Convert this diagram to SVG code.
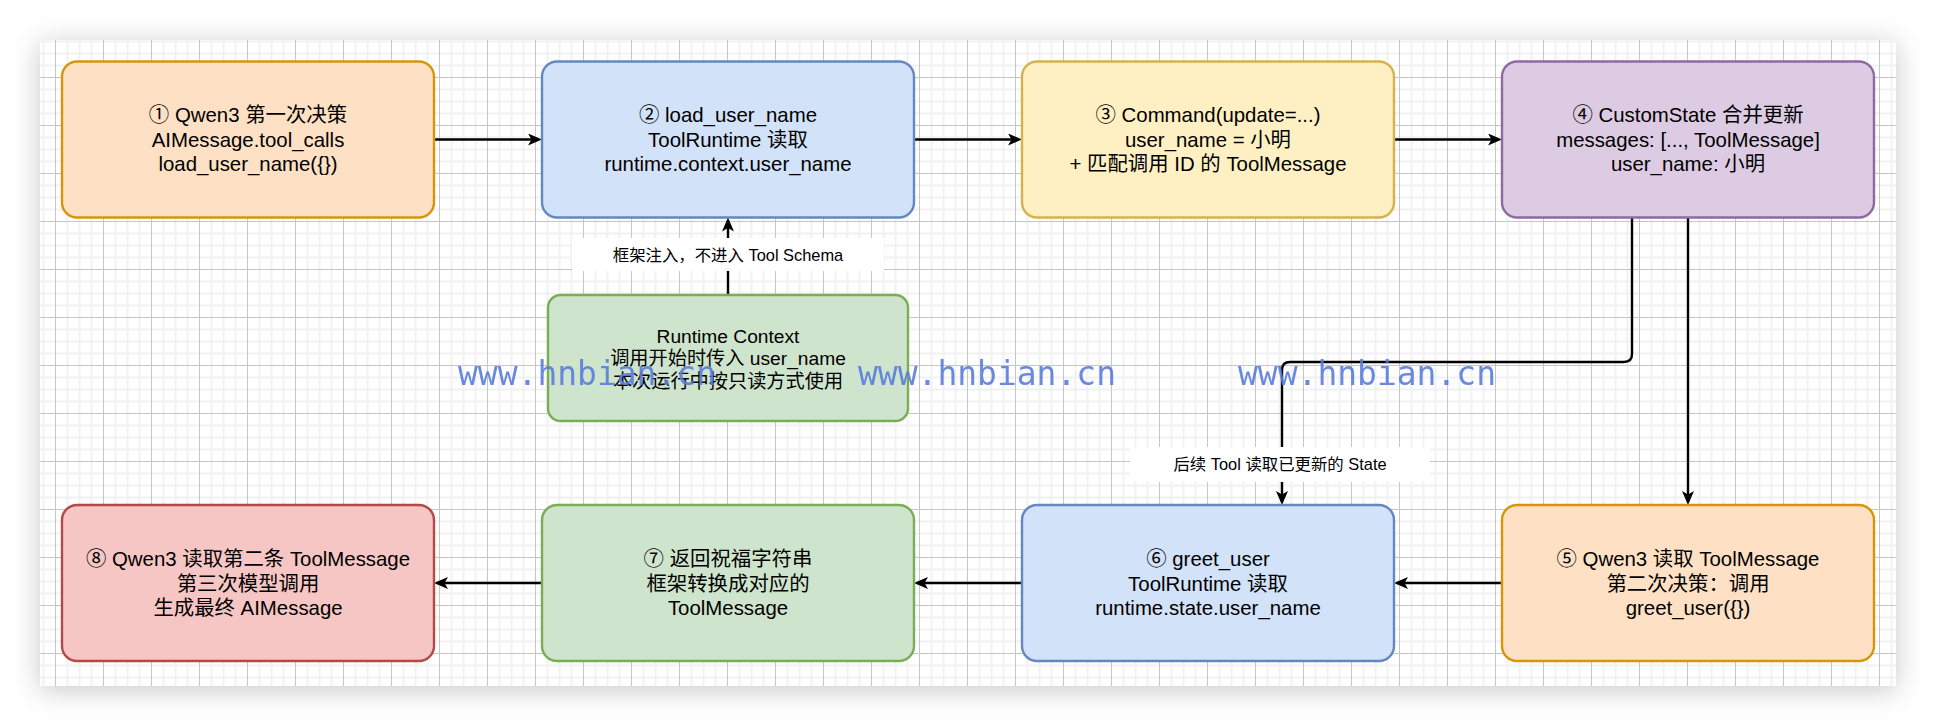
<svg xmlns="http://www.w3.org/2000/svg" width="1936" height="726" viewBox="0 0 1936 726">
  <style>
    .node rect { stroke-width: 2.4; }
    .t { font-family: 'Liberation Sans', 'Noto Sans CJK SC', sans-serif; font-size: 20.4px; fill: #000; text-anchor: middle; }
    .tc { font-family: 'Liberation Sans', 'Noto Sans CJK SC', sans-serif; font-size: 19.2px; fill: #000; text-anchor: middle; }
    .lbl { font-family: 'Liberation Sans', 'Noto Sans CJK SC', sans-serif; font-size: 16.4px; fill: #000; text-anchor: middle; }
    .edge { fill: none; stroke: #000; stroke-width: 2.4; marker-end: url(#arr); }
    .wm { font-family: 'DejaVu Sans Mono', monospace; font-size: 33px; fill: #5a7ddc; opacity: 0.9; }
    .orange { fill: #fee0c4; stroke: #d6960a; }
    .blue { fill: #d2e2f9; stroke: #6488c0; }
    .yellow { fill: #fff0c4; stroke: #d6b24c; }
    .purple { fill: #dccbe2; stroke: #8f6aa2; }
    .green { fill: #cfe4cc; stroke: #79ad56; }
    .red { fill: #f5c6c3; stroke: #b44a45; }
  </style>
  <defs>
    <filter id="shadow" x="-10%" y="-20%" width="120%" height="140%">
      <feDropShadow dx="0" dy="4" stdDeviation="14" flood-color="#000" flood-opacity="0.22"/>
    </filter>
    <pattern id="grid" patternUnits="userSpaceOnUse" x="7" y="29" width="48" height="48">
      <rect x="0" y="0" width="48" height="48" fill="#fff"/>
      <rect x="11.5" y="0" width="2" height="48" fill="#f1f1f1"/>
      <rect x="23.5" y="0" width="2" height="48" fill="#f1f1f1"/>
      <rect x="35.5" y="0" width="2" height="48" fill="#f1f1f1"/>
      <rect x="0" y="11.5" width="48" height="2" fill="#f1f1f1"/>
      <rect x="0" y="23.5" width="48" height="2" fill="#f1f1f1"/>
      <rect x="0" y="35.5" width="48" height="2" fill="#f1f1f1"/>
      <rect x="0" y="0" width="1" height="48" fill="#c6c6c6"/>
      <rect x="0" y="0" width="48" height="1" fill="#c6c6c6"/>
    </pattern>
    <marker id="arr" viewBox="0 0 14 12" markerWidth="14" markerHeight="12" refX="11" refY="6" orient="auto" markerUnits="userSpaceOnUse">
      <path d="M0,0 L14,6 L0,12 L3.5,6 Z" fill="#000"/>
    </marker>
  </defs>

  <rect x="0" y="0" width="1936" height="726" fill="#fff"/>
  <rect x="40" y="40" width="1856" height="646" fill="#fff" filter="url(#shadow)"/>
  <rect x="40" y="40" width="1856" height="646" fill="url(#grid)"/>

  <g id="connectors">
    <path class="edge" d="M434 139.5 H539"/>
    <path class="edge" d="M914 139.5 H1019"/>
    <path class="edge" d="M1394 139.5 H1499"/>
    <path class="edge" d="M1688 217.5 V502"/>
    <path class="edge" d="M1502 583 H1397"/>
    <path class="edge" d="M1022 583 H917"/>
    <path class="edge" d="M542 583 H437"/>
    <path class="edge" d="M728 295 V220.5"/>
    <path class="edge" d="M1632 217.5 V354 Q1632 362 1624 362 H1290 Q1282 362 1282 370 V502"/>
    <g id="label-inject">
      <rect x="572" y="238" width="312" height="33" fill="#fff"/>
      <text class="lbl" x="728" y="260.5">框架注入，不进入 Tool Schema</text>
    </g>
    <g id="label-state">
      <rect x="1130" y="447" width="300" height="35" fill="#fff"/>
      <text class="lbl" x="1280" y="469.5">后续 Tool 读取已更新的 State</text>
    </g>
  </g>

  <g id="n1" class="node">
    <rect class="orange" x="62" y="61.5" width="372" height="156" rx="15"/>
    <text class="t" x="248" y="122">① Qwen3 第一次决策</text>
    <text class="t" x="248" y="146.5">AIMessage.tool_calls</text>
    <text class="t" x="248" y="171">load_user_name({})</text>
  </g>
  <g id="n2" class="node">
    <rect class="blue" x="542" y="61.5" width="372" height="156" rx="15"/>
    <text class="t" x="728" y="122">② load_user_name</text>
    <text class="t" x="728" y="146.5">ToolRuntime 读取</text>
    <text class="t" x="728" y="171">runtime.context.user_name</text>
  </g>
  <g id="n3" class="node">
    <rect class="yellow" x="1022" y="61.5" width="372" height="156" rx="15"/>
    <text class="t" x="1208" y="122">③ Command(update=...)</text>
    <text class="t" x="1208" y="146.5">user_name = 小明</text>
    <text class="t" x="1208" y="171">+ 匹配调用 ID 的 ToolMessage</text>
  </g>
  <g id="n4" class="node">
    <rect class="purple" x="1502" y="61.5" width="372" height="156" rx="15"/>
    <text class="t" x="1688" y="122">④ CustomState 合并更新</text>
    <text class="t" x="1688" y="146.5">messages: [..., ToolMessage]</text>
    <text class="t" x="1688" y="171">user_name: 小明</text>
  </g>
  <g id="n5" class="node">
    <rect class="orange" x="1502" y="505" width="372" height="156" rx="15"/>
    <text class="t" x="1688" y="566">⑤ Qwen3 读取 ToolMessage</text>
    <text class="t" x="1688" y="590.5">第二次决策：调用</text>
    <text class="t" x="1688" y="615">greet_user({})</text>
  </g>
  <g id="n6" class="node">
    <rect class="blue" x="1022" y="505" width="372" height="156" rx="15"/>
    <text class="t" x="1208" y="566">⑥ greet_user</text>
    <text class="t" x="1208" y="590.5">ToolRuntime 读取</text>
    <text class="t" x="1208" y="615">runtime.state.user_name</text>
  </g>
  <g id="n7" class="node">
    <rect class="green" x="542" y="505" width="372" height="156" rx="15"/>
    <text class="t" x="728" y="566">⑦ 返回祝福字符串</text>
    <text class="t" x="728" y="590.5">框架转换成对应的</text>
    <text class="t" x="728" y="615">ToolMessage</text>
  </g>
  <g id="n8" class="node">
    <rect class="red" x="62" y="505" width="372" height="156" rx="15"/>
    <text class="t" x="248" y="566">⑧ Qwen3 读取第二条 ToolMessage</text>
    <text class="t" x="248" y="590.5">第三次模型调用</text>
    <text class="t" x="248" y="615">生成最终 AIMessage</text>
  </g>
  <g id="ctx" class="node">
    <rect class="green" x="548" y="295" width="360" height="126" rx="12.6"/>
    <text class="tc" x="728" y="342.5">Runtime Context</text>
    <text class="tc" x="728" y="365">调用开始时传入 user_name</text>
    <text class="tc" x="728" y="387.5">本次运行中按只读方式使用</text>
  </g>

  <g id="watermark">
    <text class="wm" x="458" y="385" textLength="258" lengthAdjust="spacing">www.hnbian.cn</text>
    <text class="wm" x="858" y="385" textLength="258" lengthAdjust="spacing">www.hnbian.cn</text>
    <text class="wm" x="1238" y="385" textLength="258" lengthAdjust="spacing">www.hnbian.cn</text>
  </g>
</svg>
